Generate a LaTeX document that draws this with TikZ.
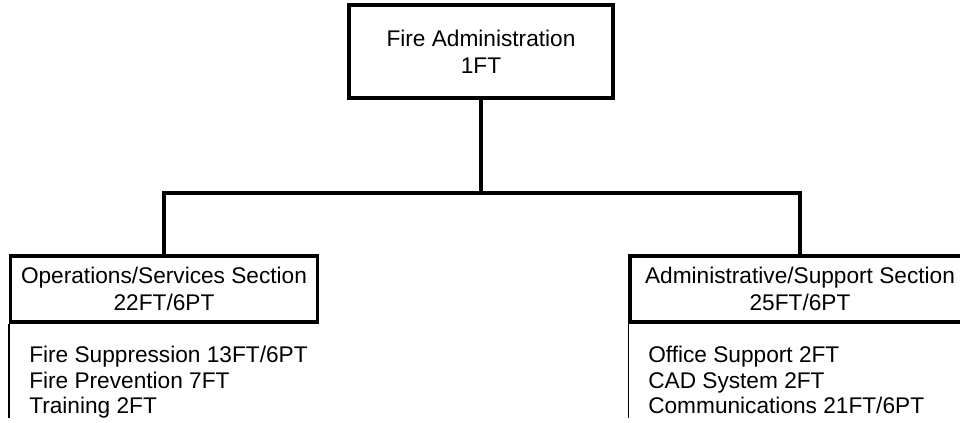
\documentclass[tikz,border=0pt]{standalone}
\usepackage{fontspec}
\setmainfont{Liberation Sans}
\begin{document}
\begin{tikzpicture}[x=0.75pt,y=-0.75pt,
  box/.style={draw, line width=2.3pt, rectangle, align=center, inner sep=0pt,
    font=\fontsize{17}{20.25}\selectfont},
  conn/.style={line width=2.3pt},
  item/.style={anchor=base west, inner sep=0pt, font=\fontsize{17}{20}\selectfont},
  rulel/.style={line width=0.8pt}]
\useasboundingbox (0,0) rectangle (960,423);
\clip (0,0) rectangle (960,423);
\fill[white] (0,0) rectangle (960,423);
\node[box, minimum width=198pt, minimum height=69.75pt] (top) at (481,51.5) {Fire Administration\\1FT};
\node[box, minimum width=230.25pt, minimum height=49.5pt] (ops) at (164,289) {Operations/Services Section\\22FT/6PT};
\node[box, minimum width=255pt, minimum height=49.5pt] (adm) at (800,289) {Administrative/Support Section\\25FT/6PT};
\coordinate (hl) at (164,193);
\coordinate (lend) at (10,418);
\coordinate (rend) at (630,418);
\draw[conn] (top.south) -- (top.south |- hl);
\draw[conn] (ops.north) -- (ops.north |- hl) -- (adm.north |- hl) -- (adm.north);
\draw[rulel] (ops.south west) -- (ops.south west |- lend);
\draw[rulel] (adm.south west) -- (adm.south west |- rend);
\node[item] (l1) at (29,363) {Fire Suppression 13FT/6PT};
\node[item] (l2) at (29,388.5) {Fire Prevention 7FT};
\node[item] (l3) at (29,414) {Training 2FT};
\node[item] (r1) at (648,363) {Office Support 2FT};
\node[item] (r2) at (648,388.5) {CAD System 2FT};
\node[item] (r3) at (648,414) {Communications 21FT/6PT};
\end{tikzpicture}
\end{document}
